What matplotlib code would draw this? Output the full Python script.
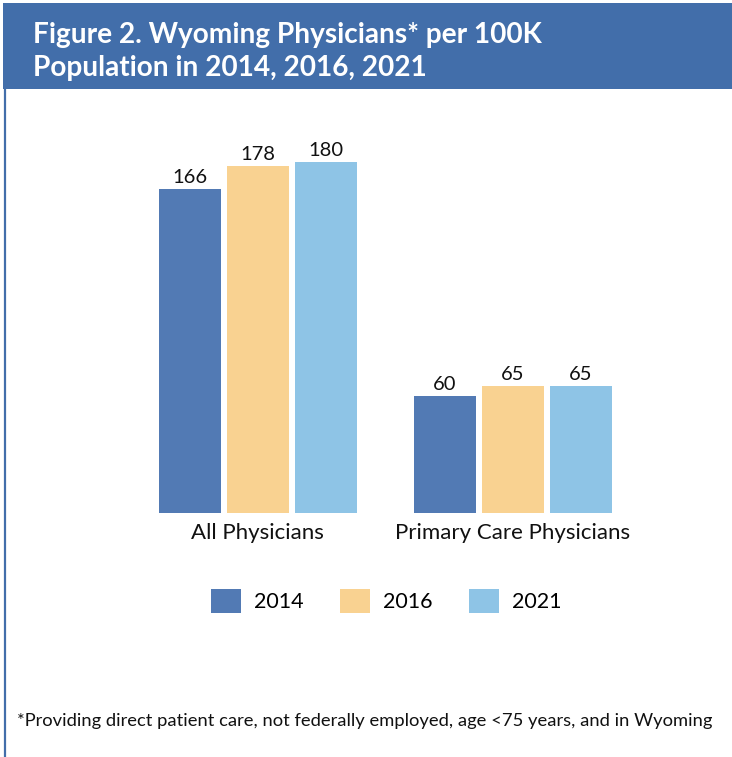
import matplotlib.pyplot as plt
from matplotlib.patches import Rectangle, Patch
from matplotlib.lines import Line2D
import numpy as np

plt.rcParams['font.family'] = ['Lato', 'DejaVu Sans']

# Data
categories = ['All Physicians', 'Primary Care Physicians']
years = ['2014', '2016', '2021']
values_2014 = [166, 60]
values_2016 = [178, 65]
values_2021 = [180, 65]
series = [values_2014, values_2016, values_2021]
colors = ['#527AB4', '#F9D291', '#8EC4E6']
banner_color = '#426EAA'

W, H = 732, 757
fig = plt.figure(figsize=(W / 100, H / 100), dpi=100)

# Title banner and left border
fig.patches.append(Rectangle((3 / W, 1 - 89 / H), 1, 86 / H, transform=fig.transFigure,
                             facecolor=banner_color, edgecolor='none'))
fig.lines.append(Line2D([5 / W, 5 / W], [0, 1 - 89 / H], transform=fig.transFigure,
                        color=banner_color, linewidth=1.6))
fig.text(33 / W, 1 - 35 / H, 'Figure 2. Wyoming Physicians* per 100K', color='white',
         fontsize=20.2, fontweight='bold', va='center', ha='left')
fig.text(33 / W, 1 - 68 / H, 'Population in 2014, 2016, 2021', color='white',
         fontsize=20.2, fontweight='bold', va='center', ha='left')

# Bar axes
ax = fig.add_axes([130 / W, 1 - 513 / H, 510 / W, 383 / H])
x = np.arange(len(categories))
step = 68 / 255
width = 62 / 255
for i, (vals, col) in enumerate(zip(series, colors)):
    pos = x + (i - 1) * step
    bars = ax.bar(pos, vals, width=width, color=col, label=years[i])
    for b, v in zip(bars, vals):
        ax.text(b.get_x() + b.get_width() / 2, v + 1.5, str(v), ha='center', va='bottom',
                fontsize=14.5, color='#111111')

ax.set_xlim(-0.5, 1.5)
ax.set_ylim(0, 196.2)
ax.set_xticks(x)
ax.set_xticklabels(categories, fontsize=16, color='#111111')
ax.tick_params(axis='x', length=0, pad=7)
ax.set_yticks([])
for s in ax.spines.values():
    s.set_visible(False)

handles = [Patch(facecolor=c, edgecolor='none', label=y) for c, y in zip(colors, years)]
fig.legend(handles=handles, loc='center', bbox_to_anchor=(386 / W, 1 - 601 / H), ncol=3,
           frameon=False, fontsize=15.5, handlelength=1.4, handleheight=1.4,
           handletextpad=0.6, columnspacing=1.7)

fig.text(17 / W, 1 - 721 / H,
         '*Providing direct patient care, not federally employed, age <75 years, and in Wyoming',
         fontsize=13.2, color='#111111', ha='left', va='center')

fig.savefig('out.png', dpi=100)
